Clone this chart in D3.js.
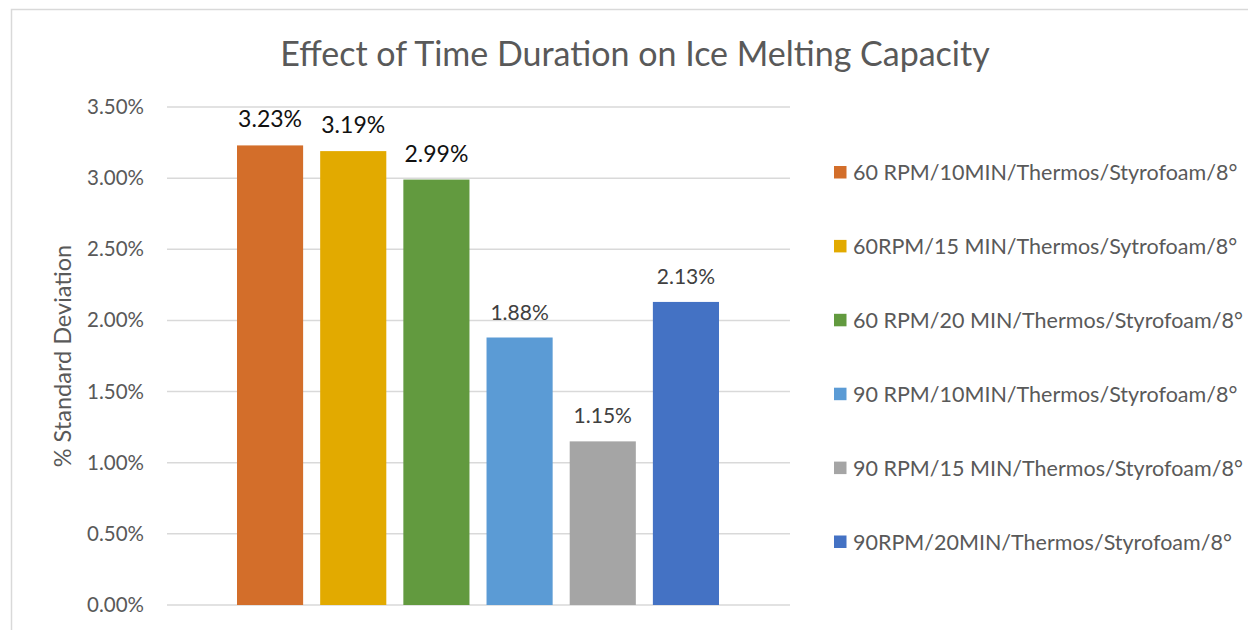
<!DOCTYPE html>
<html><head><meta charset="utf-8">
<script src="https://cdn.jsdelivr.net/npm/d3@7"></script>
<style>body{margin:0;background:#fff;} svg{display:block;font-family:Lato,"Open Sans",sans-serif;}</style>
</head><body><svg id="c" width="1248" height="630"></svg>
<script>
const title = "Effect of Time Duration on Ice Melting Capacity";
const yAxisTitle = "% Standard Deviation";
const series = [
  "60 RPM/10MIN/Thermos/Styrofoam/8°",
  "60RPM/15 MIN/Thermos/Sytrofoam/8°",
  "60 RPM/20 MIN/Thermos/Styrofoam/8°",
  "90 RPM/10MIN/Thermos/Styrofoam/8°",
  "90 RPM/15 MIN/Thermos/Styrofoam/8°",
  "90RPM/20MIN/Thermos/Styrofoam/8°"
];
const values = [0.0323, 0.0319, 0.0299, 0.0188, 0.0115, 0.0213];
const colors = ["#D36E2A", "#E2AA00", "#629A3F", "#5B9BD5", "#A5A5A5", "#4472C4"];
const yTicks = [0, 0.005, 0.01, 0.015, 0.02, 0.025, 0.03, 0.035];

const svg = d3.select("#c");
// chart border
svg.append("path").attr("d","M11.5,630 V9.5 H1248").attr("fill","none").attr("stroke","#d9d9d9").attr("stroke-width",1.5);

const plot = {left:167, right:790, top:107, bottom:605};
const y = d3.scaleLinear().domain([0,0.035]).range([plot.bottom, plot.top]);
const x = d3.scaleBand().domain(series).range([237, 719]).paddingInner(0.205).paddingOuter(0);

// gridlines
svg.append("g").selectAll("line").data(yTicks).join("line")
  .attr("x1",plot.left).attr("x2",plot.right)
  .attr("y1",d=>y(d)).attr("y2",d=>y(d))
  .attr("stroke","#d9d9d9").attr("stroke-width",1.5);

// y axis labels
const yAxis = d3.axisLeft(y).tickValues(yTicks).tickFormat(d3.format(".2%")).tickSize(0).tickPadding(0);
const ga = svg.append("g").attr("transform",`translate(144,0)`).call(yAxis);
ga.select(".domain").remove();
ga.selectAll("text").attr("font-size",20.5).attr("fill","#595959").attr("font-family","Lato,'Open Sans',sans-serif");

// y axis title
svg.append("text").attr("transform","translate(71,356) rotate(-90)")
  .attr("text-anchor","middle").attr("font-size",23.5).attr("fill","#595959").text(yAxisTitle);

// title
svg.append("text").attr("x",635).attr("y",66).attr("text-anchor","middle")
  .attr("font-size",34).attr("fill","#595959").text(title);

// bars
svg.append("g").selectAll("rect").data(series).join("rect")
  .attr("x",d=>x(d)).attr("width",x.bandwidth())
  .attr("y",(d,i)=>y(values[i])).attr("height",(d,i)=>y(0)-y(values[i]))
  .attr("fill",(d,i)=>colors[i]);

// data labels
svg.append("g").selectAll("text").data(series).join("text")
  .attr("x",d=>x(d)+x.bandwidth()/2)
  .attr("y",(d,i)=>y(values[i])-18)
  .attr("text-anchor","middle")
  .attr("font-size",(d,i)=>i<3?23:21)
  .attr("fill",(d,i)=>i<3?"#111":"#404040")
  .text((d,i)=>d3.format(".2%")(values[i]));

// legend
const lg = svg.append("g").selectAll("g").data(series).join("g")
  .attr("transform",(d,i)=>`translate(834,${172+i*73.9})`);
lg.append("rect").attr("x",0).attr("y",-6).attr("width",12.5).attr("height",12.5).attr("fill",(d,i)=>colors[i]);
lg.append("text").attr("x",19).attr("y",8).attr("font-size",21.5).attr("fill","#595959").text(d=>d);
</script></body></html>
